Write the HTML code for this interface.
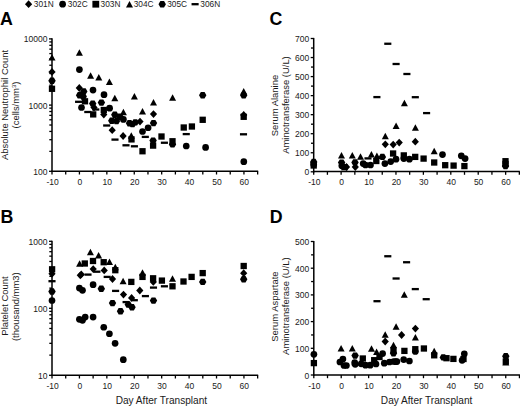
<!DOCTYPE html>
<html><head><meta charset="utf-8"><style>
html,body{margin:0;padding:0;background:#fff;}
svg{display:block;}
text{font-family:"Liberation Sans", sans-serif;}
</style></head><body>
<svg width="520" height="406" viewBox="0 0 520 406">
<rect width="520" height="406" fill="#fff"/>
<line x1="52.00" y1="38.30" x2="52.00" y2="172.00" stroke="#000" stroke-width="1.5"/>
<line x1="49.00" y1="171.30" x2="52.00" y2="171.30" stroke="#000" stroke-width="1.3"/>
<text x="47.50" y="174.80" font-size="8.5" text-anchor="end" font-weight="normal" fill="#1a1a1a">100</text>
<line x1="49.30" y1="151.37" x2="52.00" y2="151.37" stroke="#000" stroke-width="1.3"/>
<line x1="49.30" y1="139.71" x2="52.00" y2="139.71" stroke="#000" stroke-width="1.3"/>
<line x1="49.30" y1="131.44" x2="52.00" y2="131.44" stroke="#000" stroke-width="1.3"/>
<line x1="49.30" y1="125.03" x2="52.00" y2="125.03" stroke="#000" stroke-width="1.3"/>
<line x1="49.30" y1="119.79" x2="52.00" y2="119.79" stroke="#000" stroke-width="1.3"/>
<line x1="49.30" y1="115.35" x2="52.00" y2="115.35" stroke="#000" stroke-width="1.3"/>
<line x1="49.30" y1="111.52" x2="52.00" y2="111.52" stroke="#000" stroke-width="1.3"/>
<line x1="49.30" y1="108.13" x2="52.00" y2="108.13" stroke="#000" stroke-width="1.3"/>
<line x1="49.00" y1="105.10" x2="52.00" y2="105.10" stroke="#000" stroke-width="1.3"/>
<text x="47.50" y="108.60" font-size="8.5" text-anchor="end" font-weight="normal" fill="#1a1a1a">1000</text>
<line x1="49.30" y1="85.17" x2="52.00" y2="85.17" stroke="#000" stroke-width="1.3"/>
<line x1="49.30" y1="73.51" x2="52.00" y2="73.51" stroke="#000" stroke-width="1.3"/>
<line x1="49.30" y1="65.24" x2="52.00" y2="65.24" stroke="#000" stroke-width="1.3"/>
<line x1="49.30" y1="58.83" x2="52.00" y2="58.83" stroke="#000" stroke-width="1.3"/>
<line x1="49.30" y1="53.59" x2="52.00" y2="53.59" stroke="#000" stroke-width="1.3"/>
<line x1="49.30" y1="49.15" x2="52.00" y2="49.15" stroke="#000" stroke-width="1.3"/>
<line x1="49.30" y1="45.32" x2="52.00" y2="45.32" stroke="#000" stroke-width="1.3"/>
<line x1="49.30" y1="41.93" x2="52.00" y2="41.93" stroke="#000" stroke-width="1.3"/>
<line x1="49.00" y1="38.90" x2="52.00" y2="38.90" stroke="#000" stroke-width="1.3"/>
<text x="47.50" y="42.40" font-size="8.5" text-anchor="end" font-weight="normal" fill="#1a1a1a">10000</text>
<line x1="51.30" y1="171.30" x2="258.15" y2="171.30" stroke="#000" stroke-width="1.5"/>
<line x1="52.00" y1="171.30" x2="52.00" y2="174.50" stroke="#000" stroke-width="1.3"/>
<line x1="65.71" y1="171.30" x2="65.71" y2="174.50" stroke="#000" stroke-width="1.3"/>
<line x1="79.42" y1="171.30" x2="79.42" y2="174.50" stroke="#000" stroke-width="1.3"/>
<line x1="93.13" y1="171.30" x2="93.13" y2="174.50" stroke="#000" stroke-width="1.3"/>
<line x1="106.84" y1="171.30" x2="106.84" y2="174.50" stroke="#000" stroke-width="1.3"/>
<line x1="120.55" y1="171.30" x2="120.55" y2="174.50" stroke="#000" stroke-width="1.3"/>
<line x1="134.26" y1="171.30" x2="134.26" y2="174.50" stroke="#000" stroke-width="1.3"/>
<line x1="147.97" y1="171.30" x2="147.97" y2="174.50" stroke="#000" stroke-width="1.3"/>
<line x1="161.68" y1="171.30" x2="161.68" y2="174.50" stroke="#000" stroke-width="1.3"/>
<line x1="175.39" y1="171.30" x2="175.39" y2="174.50" stroke="#000" stroke-width="1.3"/>
<line x1="189.10" y1="171.30" x2="189.10" y2="174.50" stroke="#000" stroke-width="1.3"/>
<line x1="202.81" y1="171.30" x2="202.81" y2="174.50" stroke="#000" stroke-width="1.3"/>
<line x1="216.52" y1="171.30" x2="216.52" y2="174.50" stroke="#000" stroke-width="1.3"/>
<line x1="230.23" y1="171.30" x2="230.23" y2="174.50" stroke="#000" stroke-width="1.3"/>
<line x1="243.94" y1="171.30" x2="243.94" y2="174.50" stroke="#000" stroke-width="1.3"/>
<line x1="257.65" y1="171.30" x2="257.65" y2="174.50" stroke="#000" stroke-width="1.3"/>
<text x="52.60" y="185.20" font-size="8.5" text-anchor="middle" font-weight="normal" fill="#1a1a1a">-10</text>
<text x="79.82" y="185.20" font-size="8.5" text-anchor="middle" font-weight="normal" fill="#1a1a1a">0</text>
<text x="107.24" y="185.20" font-size="8.5" text-anchor="middle" font-weight="normal" fill="#1a1a1a">10</text>
<text x="134.66" y="185.20" font-size="8.5" text-anchor="middle" font-weight="normal" fill="#1a1a1a">20</text>
<text x="162.08" y="185.20" font-size="8.5" text-anchor="middle" font-weight="normal" fill="#1a1a1a">30</text>
<text x="189.50" y="185.20" font-size="8.5" text-anchor="middle" font-weight="normal" fill="#1a1a1a">40</text>
<text x="216.92" y="185.20" font-size="8.5" text-anchor="middle" font-weight="normal" fill="#1a1a1a">50</text>
<text x="244.34" y="185.20" font-size="8.5" text-anchor="middle" font-weight="normal" fill="#1a1a1a">60</text>
<line x1="52.00" y1="240.70" x2="52.00" y2="376.00" stroke="#000" stroke-width="1.5"/>
<line x1="49.00" y1="375.30" x2="52.00" y2="375.30" stroke="#000" stroke-width="1.3"/>
<text x="47.50" y="378.80" font-size="8.5" text-anchor="end" font-weight="normal" fill="#1a1a1a">10</text>
<line x1="49.30" y1="355.13" x2="52.00" y2="355.13" stroke="#000" stroke-width="1.3"/>
<line x1="49.30" y1="343.33" x2="52.00" y2="343.33" stroke="#000" stroke-width="1.3"/>
<line x1="49.30" y1="334.96" x2="52.00" y2="334.96" stroke="#000" stroke-width="1.3"/>
<line x1="49.30" y1="328.47" x2="52.00" y2="328.47" stroke="#000" stroke-width="1.3"/>
<line x1="49.30" y1="323.16" x2="52.00" y2="323.16" stroke="#000" stroke-width="1.3"/>
<line x1="49.30" y1="318.68" x2="52.00" y2="318.68" stroke="#000" stroke-width="1.3"/>
<line x1="49.30" y1="314.79" x2="52.00" y2="314.79" stroke="#000" stroke-width="1.3"/>
<line x1="49.30" y1="311.37" x2="52.00" y2="311.37" stroke="#000" stroke-width="1.3"/>
<line x1="49.00" y1="308.30" x2="52.00" y2="308.30" stroke="#000" stroke-width="1.3"/>
<text x="47.50" y="311.80" font-size="8.5" text-anchor="end" font-weight="normal" fill="#1a1a1a">100</text>
<line x1="49.30" y1="288.13" x2="52.00" y2="288.13" stroke="#000" stroke-width="1.3"/>
<line x1="49.30" y1="276.33" x2="52.00" y2="276.33" stroke="#000" stroke-width="1.3"/>
<line x1="49.30" y1="267.96" x2="52.00" y2="267.96" stroke="#000" stroke-width="1.3"/>
<line x1="49.30" y1="261.47" x2="52.00" y2="261.47" stroke="#000" stroke-width="1.3"/>
<line x1="49.30" y1="256.16" x2="52.00" y2="256.16" stroke="#000" stroke-width="1.3"/>
<line x1="49.30" y1="251.68" x2="52.00" y2="251.68" stroke="#000" stroke-width="1.3"/>
<line x1="49.30" y1="247.79" x2="52.00" y2="247.79" stroke="#000" stroke-width="1.3"/>
<line x1="49.30" y1="244.37" x2="52.00" y2="244.37" stroke="#000" stroke-width="1.3"/>
<line x1="49.00" y1="241.30" x2="52.00" y2="241.30" stroke="#000" stroke-width="1.3"/>
<text x="47.50" y="244.80" font-size="8.5" text-anchor="end" font-weight="normal" fill="#1a1a1a">1000</text>
<line x1="51.30" y1="375.30" x2="258.15" y2="375.30" stroke="#000" stroke-width="1.5"/>
<line x1="52.00" y1="375.30" x2="52.00" y2="378.50" stroke="#000" stroke-width="1.3"/>
<line x1="65.71" y1="375.30" x2="65.71" y2="378.50" stroke="#000" stroke-width="1.3"/>
<line x1="79.42" y1="375.30" x2="79.42" y2="378.50" stroke="#000" stroke-width="1.3"/>
<line x1="93.13" y1="375.30" x2="93.13" y2="378.50" stroke="#000" stroke-width="1.3"/>
<line x1="106.84" y1="375.30" x2="106.84" y2="378.50" stroke="#000" stroke-width="1.3"/>
<line x1="120.55" y1="375.30" x2="120.55" y2="378.50" stroke="#000" stroke-width="1.3"/>
<line x1="134.26" y1="375.30" x2="134.26" y2="378.50" stroke="#000" stroke-width="1.3"/>
<line x1="147.97" y1="375.30" x2="147.97" y2="378.50" stroke="#000" stroke-width="1.3"/>
<line x1="161.68" y1="375.30" x2="161.68" y2="378.50" stroke="#000" stroke-width="1.3"/>
<line x1="175.39" y1="375.30" x2="175.39" y2="378.50" stroke="#000" stroke-width="1.3"/>
<line x1="189.10" y1="375.30" x2="189.10" y2="378.50" stroke="#000" stroke-width="1.3"/>
<line x1="202.81" y1="375.30" x2="202.81" y2="378.50" stroke="#000" stroke-width="1.3"/>
<line x1="216.52" y1="375.30" x2="216.52" y2="378.50" stroke="#000" stroke-width="1.3"/>
<line x1="230.23" y1="375.30" x2="230.23" y2="378.50" stroke="#000" stroke-width="1.3"/>
<line x1="243.94" y1="375.30" x2="243.94" y2="378.50" stroke="#000" stroke-width="1.3"/>
<line x1="257.65" y1="375.30" x2="257.65" y2="378.50" stroke="#000" stroke-width="1.3"/>
<text x="52.60" y="389.20" font-size="8.5" text-anchor="middle" font-weight="normal" fill="#1a1a1a">-10</text>
<text x="79.82" y="389.20" font-size="8.5" text-anchor="middle" font-weight="normal" fill="#1a1a1a">0</text>
<text x="107.24" y="389.20" font-size="8.5" text-anchor="middle" font-weight="normal" fill="#1a1a1a">10</text>
<text x="134.66" y="389.20" font-size="8.5" text-anchor="middle" font-weight="normal" fill="#1a1a1a">20</text>
<text x="162.08" y="389.20" font-size="8.5" text-anchor="middle" font-weight="normal" fill="#1a1a1a">30</text>
<text x="189.50" y="389.20" font-size="8.5" text-anchor="middle" font-weight="normal" fill="#1a1a1a">40</text>
<text x="216.92" y="389.20" font-size="8.5" text-anchor="middle" font-weight="normal" fill="#1a1a1a">50</text>
<text x="244.34" y="389.20" font-size="8.5" text-anchor="middle" font-weight="normal" fill="#1a1a1a">60</text>
<line x1="313.70" y1="37.90" x2="313.70" y2="172.50" stroke="#000" stroke-width="1.5"/>
<line x1="310.70" y1="171.80" x2="313.70" y2="171.80" stroke="#000" stroke-width="1.3"/>
<text x="309.20" y="175.30" font-size="8.5" text-anchor="end" font-weight="normal" fill="#1a1a1a">0</text>
<line x1="310.70" y1="152.76" x2="313.70" y2="152.76" stroke="#000" stroke-width="1.3"/>
<text x="309.20" y="156.26" font-size="8.5" text-anchor="end" font-weight="normal" fill="#1a1a1a">100</text>
<line x1="310.70" y1="133.71" x2="313.70" y2="133.71" stroke="#000" stroke-width="1.3"/>
<text x="309.20" y="137.21" font-size="8.5" text-anchor="end" font-weight="normal" fill="#1a1a1a">200</text>
<line x1="310.70" y1="114.67" x2="313.70" y2="114.67" stroke="#000" stroke-width="1.3"/>
<text x="309.20" y="118.17" font-size="8.5" text-anchor="end" font-weight="normal" fill="#1a1a1a">300</text>
<line x1="310.70" y1="95.63" x2="313.70" y2="95.63" stroke="#000" stroke-width="1.3"/>
<text x="309.20" y="99.13" font-size="8.5" text-anchor="end" font-weight="normal" fill="#1a1a1a">400</text>
<line x1="310.70" y1="76.59" x2="313.70" y2="76.59" stroke="#000" stroke-width="1.3"/>
<text x="309.20" y="80.09" font-size="8.5" text-anchor="end" font-weight="normal" fill="#1a1a1a">500</text>
<line x1="310.70" y1="57.54" x2="313.70" y2="57.54" stroke="#000" stroke-width="1.3"/>
<text x="309.20" y="61.04" font-size="8.5" text-anchor="end" font-weight="normal" fill="#1a1a1a">600</text>
<line x1="310.70" y1="38.50" x2="313.70" y2="38.50" stroke="#000" stroke-width="1.3"/>
<text x="309.20" y="42.00" font-size="8.5" text-anchor="end" font-weight="normal" fill="#1a1a1a">700</text>
<line x1="311.00" y1="162.28" x2="313.70" y2="162.28" stroke="#000" stroke-width="1.3"/>
<line x1="311.00" y1="143.24" x2="313.70" y2="143.24" stroke="#000" stroke-width="1.3"/>
<line x1="311.00" y1="124.19" x2="313.70" y2="124.19" stroke="#000" stroke-width="1.3"/>
<line x1="311.00" y1="105.15" x2="313.70" y2="105.15" stroke="#000" stroke-width="1.3"/>
<line x1="311.00" y1="86.11" x2="313.70" y2="86.11" stroke="#000" stroke-width="1.3"/>
<line x1="311.00" y1="67.06" x2="313.70" y2="67.06" stroke="#000" stroke-width="1.3"/>
<line x1="311.00" y1="48.02" x2="313.70" y2="48.02" stroke="#000" stroke-width="1.3"/>
<line x1="313.00" y1="171.60" x2="519.85" y2="171.60" stroke="#000" stroke-width="1.5"/>
<line x1="313.70" y1="171.60" x2="313.70" y2="174.80" stroke="#000" stroke-width="1.3"/>
<line x1="327.41" y1="171.60" x2="327.41" y2="174.80" stroke="#000" stroke-width="1.3"/>
<line x1="341.12" y1="171.60" x2="341.12" y2="174.80" stroke="#000" stroke-width="1.3"/>
<line x1="354.83" y1="171.60" x2="354.83" y2="174.80" stroke="#000" stroke-width="1.3"/>
<line x1="368.54" y1="171.60" x2="368.54" y2="174.80" stroke="#000" stroke-width="1.3"/>
<line x1="382.25" y1="171.60" x2="382.25" y2="174.80" stroke="#000" stroke-width="1.3"/>
<line x1="395.96" y1="171.60" x2="395.96" y2="174.80" stroke="#000" stroke-width="1.3"/>
<line x1="409.67" y1="171.60" x2="409.67" y2="174.80" stroke="#000" stroke-width="1.3"/>
<line x1="423.38" y1="171.60" x2="423.38" y2="174.80" stroke="#000" stroke-width="1.3"/>
<line x1="437.09" y1="171.60" x2="437.09" y2="174.80" stroke="#000" stroke-width="1.3"/>
<line x1="450.80" y1="171.60" x2="450.80" y2="174.80" stroke="#000" stroke-width="1.3"/>
<line x1="464.51" y1="171.60" x2="464.51" y2="174.80" stroke="#000" stroke-width="1.3"/>
<line x1="478.22" y1="171.60" x2="478.22" y2="174.80" stroke="#000" stroke-width="1.3"/>
<line x1="491.93" y1="171.60" x2="491.93" y2="174.80" stroke="#000" stroke-width="1.3"/>
<line x1="505.64" y1="171.60" x2="505.64" y2="174.80" stroke="#000" stroke-width="1.3"/>
<line x1="519.35" y1="171.60" x2="519.35" y2="174.80" stroke="#000" stroke-width="1.3"/>
<text x="314.30" y="185.40" font-size="8.5" text-anchor="middle" font-weight="normal" fill="#1a1a1a">-10</text>
<text x="341.52" y="185.40" font-size="8.5" text-anchor="middle" font-weight="normal" fill="#1a1a1a">0</text>
<text x="368.94" y="185.40" font-size="8.5" text-anchor="middle" font-weight="normal" fill="#1a1a1a">10</text>
<text x="396.36" y="185.40" font-size="8.5" text-anchor="middle" font-weight="normal" fill="#1a1a1a">20</text>
<text x="423.78" y="185.40" font-size="8.5" text-anchor="middle" font-weight="normal" fill="#1a1a1a">30</text>
<text x="451.20" y="185.40" font-size="8.5" text-anchor="middle" font-weight="normal" fill="#1a1a1a">40</text>
<text x="478.62" y="185.40" font-size="8.5" text-anchor="middle" font-weight="normal" fill="#1a1a1a">50</text>
<text x="506.04" y="185.40" font-size="8.5" text-anchor="middle" font-weight="normal" fill="#1a1a1a">60</text>
<line x1="313.80" y1="240.90" x2="313.80" y2="375.70" stroke="#000" stroke-width="1.5"/>
<line x1="310.80" y1="375.00" x2="313.80" y2="375.00" stroke="#000" stroke-width="1.3"/>
<text x="309.30" y="378.50" font-size="8.5" text-anchor="end" font-weight="normal" fill="#1a1a1a">0</text>
<line x1="310.80" y1="348.30" x2="313.80" y2="348.30" stroke="#000" stroke-width="1.3"/>
<text x="309.30" y="351.80" font-size="8.5" text-anchor="end" font-weight="normal" fill="#1a1a1a">100</text>
<line x1="310.80" y1="321.60" x2="313.80" y2="321.60" stroke="#000" stroke-width="1.3"/>
<text x="309.30" y="325.10" font-size="8.5" text-anchor="end" font-weight="normal" fill="#1a1a1a">200</text>
<line x1="310.80" y1="294.90" x2="313.80" y2="294.90" stroke="#000" stroke-width="1.3"/>
<text x="309.30" y="298.40" font-size="8.5" text-anchor="end" font-weight="normal" fill="#1a1a1a">300</text>
<line x1="310.80" y1="268.20" x2="313.80" y2="268.20" stroke="#000" stroke-width="1.3"/>
<text x="309.30" y="271.70" font-size="8.5" text-anchor="end" font-weight="normal" fill="#1a1a1a">400</text>
<line x1="310.80" y1="241.50" x2="313.80" y2="241.50" stroke="#000" stroke-width="1.3"/>
<text x="309.30" y="245.00" font-size="8.5" text-anchor="end" font-weight="normal" fill="#1a1a1a">500</text>
<line x1="311.10" y1="361.65" x2="313.80" y2="361.65" stroke="#000" stroke-width="1.3"/>
<line x1="311.10" y1="334.95" x2="313.80" y2="334.95" stroke="#000" stroke-width="1.3"/>
<line x1="311.10" y1="308.25" x2="313.80" y2="308.25" stroke="#000" stroke-width="1.3"/>
<line x1="311.10" y1="281.55" x2="313.80" y2="281.55" stroke="#000" stroke-width="1.3"/>
<line x1="311.10" y1="254.85" x2="313.80" y2="254.85" stroke="#000" stroke-width="1.3"/>
<line x1="313.10" y1="375.00" x2="519.95" y2="375.00" stroke="#000" stroke-width="1.5"/>
<line x1="313.80" y1="375.00" x2="313.80" y2="378.20" stroke="#000" stroke-width="1.3"/>
<line x1="327.51" y1="375.00" x2="327.51" y2="378.20" stroke="#000" stroke-width="1.3"/>
<line x1="341.22" y1="375.00" x2="341.22" y2="378.20" stroke="#000" stroke-width="1.3"/>
<line x1="354.93" y1="375.00" x2="354.93" y2="378.20" stroke="#000" stroke-width="1.3"/>
<line x1="368.64" y1="375.00" x2="368.64" y2="378.20" stroke="#000" stroke-width="1.3"/>
<line x1="382.35" y1="375.00" x2="382.35" y2="378.20" stroke="#000" stroke-width="1.3"/>
<line x1="396.06" y1="375.00" x2="396.06" y2="378.20" stroke="#000" stroke-width="1.3"/>
<line x1="409.77" y1="375.00" x2="409.77" y2="378.20" stroke="#000" stroke-width="1.3"/>
<line x1="423.48" y1="375.00" x2="423.48" y2="378.20" stroke="#000" stroke-width="1.3"/>
<line x1="437.19" y1="375.00" x2="437.19" y2="378.20" stroke="#000" stroke-width="1.3"/>
<line x1="450.90" y1="375.00" x2="450.90" y2="378.20" stroke="#000" stroke-width="1.3"/>
<line x1="464.61" y1="375.00" x2="464.61" y2="378.20" stroke="#000" stroke-width="1.3"/>
<line x1="478.32" y1="375.00" x2="478.32" y2="378.20" stroke="#000" stroke-width="1.3"/>
<line x1="492.03" y1="375.00" x2="492.03" y2="378.20" stroke="#000" stroke-width="1.3"/>
<line x1="505.74" y1="375.00" x2="505.74" y2="378.20" stroke="#000" stroke-width="1.3"/>
<line x1="519.45" y1="375.00" x2="519.45" y2="378.20" stroke="#000" stroke-width="1.3"/>
<text x="314.40" y="388.90" font-size="8.5" text-anchor="middle" font-weight="normal" fill="#1a1a1a">-10</text>
<text x="341.62" y="388.90" font-size="8.5" text-anchor="middle" font-weight="normal" fill="#1a1a1a">0</text>
<text x="369.04" y="388.90" font-size="8.5" text-anchor="middle" font-weight="normal" fill="#1a1a1a">10</text>
<text x="396.46" y="388.90" font-size="8.5" text-anchor="middle" font-weight="normal" fill="#1a1a1a">20</text>
<text x="423.88" y="388.90" font-size="8.5" text-anchor="middle" font-weight="normal" fill="#1a1a1a">30</text>
<text x="451.30" y="388.90" font-size="8.5" text-anchor="middle" font-weight="normal" fill="#1a1a1a">40</text>
<text x="478.72" y="388.90" font-size="8.5" text-anchor="middle" font-weight="normal" fill="#1a1a1a">50</text>
<text x="506.14" y="388.90" font-size="8.5" text-anchor="middle" font-weight="normal" fill="#1a1a1a">60</text>
<text x="0.00" y="25.40" font-size="17.8" text-anchor="start" font-weight="bold" fill="#000">A</text>
<text x="0.50" y="223.30" font-size="17.8" text-anchor="start" font-weight="bold" fill="#000">B</text>
<text x="269.60" y="25.40" font-size="17.8" text-anchor="start" font-weight="bold" fill="#000">C</text>
<text x="269.70" y="223.30" font-size="17.8" text-anchor="start" font-weight="bold" fill="#000">D</text>
<text x="8.00" y="105.00" font-size="9.45" text-anchor="middle" font-weight="normal" fill="#1a1a1a" transform="rotate(-90 8.00 105.00)">Absolute Neutrophil Count</text>
<text x="19.10" y="105.00" font-size="9.45" text-anchor="middle" font-weight="normal" fill="#1a1a1a" transform="rotate(-90 19.10 105.00)">(cells/mm<tspan font-size="6" dy="-3">3</tspan><tspan dy="3">)</tspan></text>
<text x="8.00" y="306.00" font-size="9.45" text-anchor="middle" font-weight="normal" fill="#1a1a1a" transform="rotate(-90 8.00 306.00)">Platelet Count</text>
<text x="19.10" y="306.70" font-size="9.45" text-anchor="middle" font-weight="normal" fill="#1a1a1a" transform="rotate(-90 19.10 306.70)">(thousand/mm3)</text>
<text x="278.00" y="105.50" font-size="9.45" text-anchor="middle" font-weight="normal" fill="#1a1a1a" transform="rotate(-90 278.00 105.50)">Serum Alanine</text>
<text x="288.60" y="105.00" font-size="9.45" text-anchor="middle" font-weight="normal" fill="#1a1a1a" transform="rotate(-90 288.60 105.00)">Aminotransferase (U/L)</text>
<text x="278.00" y="306.60" font-size="9.45" text-anchor="middle" font-weight="normal" fill="#1a1a1a" transform="rotate(-90 278.00 306.60)">Serum Aspartate</text>
<text x="288.60" y="306.10" font-size="9.45" text-anchor="middle" font-weight="normal" fill="#1a1a1a" transform="rotate(-90 288.60 306.10)">Aminotransferase (U/L)</text>
<text x="161.40" y="403.60" font-size="10.1" text-anchor="middle" font-weight="normal" fill="#1a1a1a">Day After Transplant</text>
<text x="426.60" y="403.60" font-size="10.1" text-anchor="middle" font-weight="normal" fill="#1a1a1a">Day After Transplant</text>
<path d="M28.60 0.30L32.20 4.20L28.60 8.10L25.00 4.20Z"/>
<text x="33.80" y="7.10" font-size="8.3" text-anchor="start" font-weight="normal" fill="#1a1a1a">301N</text>
<circle cx="62.60" cy="4.20" r="3.35"/>
<text x="67.80" y="7.10" font-size="8.3" text-anchor="start" font-weight="normal" fill="#1a1a1a">302C</text>
<rect x="92.40" y="0.80" width="6.8" height="6.8"/>
<text x="100.60" y="7.10" font-size="8.3" text-anchor="start" font-weight="normal" fill="#1a1a1a">303N</text>
<path d="M129.50 0.95L133.00 7.45L126.00 7.45Z"/>
<text x="133.70" y="7.10" font-size="8.3" text-anchor="start" font-weight="normal" fill="#1a1a1a">304C</text>
<path d="M158.50 4.20L160.35 1.00L164.05 1.00L165.90 4.20L164.05 7.40L160.35 7.40Z"/>
<text x="167.20" y="7.10" font-size="8.3" text-anchor="start" font-weight="normal" fill="#1a1a1a">305C</text>
<rect x="191.55" y="3.05" width="7.1" height="2.3"/>
<text x="200.30" y="7.10" font-size="8.3" text-anchor="start" font-weight="normal" fill="#1a1a1a">306N</text>
<path d="M52.00 54.05L55.50 60.55L48.50 60.55Z"/>
<path d="M52.00 68.00L55.60 71.90L52.00 75.80L48.40 71.90Z"/>
<path d="M48.30 80.80L50.15 77.60L53.85 77.60L55.70 80.80L53.85 84.00L50.15 84.00Z"/>
<rect x="48.85" y="85.65" width="6.3" height="6.3"/>
<path d="M79.40 49.35L82.90 55.85L75.90 55.85Z"/>
<path d="M90.60 72.15L94.10 78.65L87.10 78.65Z"/>
<path d="M98.80 74.05L102.30 80.55L95.30 80.55Z"/>
<path d="M109.40 78.45L112.90 84.95L105.90 84.95Z"/>
<path d="M114.80 94.75L118.30 101.25L111.30 101.25Z"/>
<path d="M134.40 92.95L137.90 99.45L130.90 99.45Z"/>
<path d="M153.50 99.05L157.00 105.55L150.00 105.55Z"/>
<path d="M172.60 94.25L176.10 100.75L169.10 100.75Z"/>
<path d="M123.40 108.85L126.90 115.35L119.90 115.35Z"/>
<path d="M142.50 107.95L146.00 114.45L139.00 114.45Z"/>
<path d="M131.30 132.15L134.80 138.65L127.80 138.65Z"/>
<path d="M243.70 88.05L247.20 94.55L240.20 94.55Z"/>
<circle cx="79.40" cy="69.60" r="3.35"/>
<circle cx="93.00" cy="90.10" r="3.35"/>
<circle cx="104.00" cy="94.70" r="3.35"/>
<circle cx="81.50" cy="107.50" r="3.35"/>
<circle cx="109.60" cy="108.20" r="3.35"/>
<circle cx="148.10" cy="127.75" r="3.35"/>
<circle cx="142.50" cy="131.50" r="3.35"/>
<circle cx="186.25" cy="146.00" r="3.35"/>
<circle cx="205.60" cy="147.40" r="3.35"/>
<circle cx="243.80" cy="161.70" r="3.35"/>
<circle cx="123.40" cy="119.40" r="3.35"/>
<path d="M97.70 102.60L99.55 99.40L103.25 99.40L105.10 102.60L103.25 105.80L99.55 105.80Z"/>
<path d="M89.00 103.60L90.85 100.40L94.55 100.40L96.40 103.60L94.55 106.80L90.85 106.80Z"/>
<path d="M149.80 123.10L151.65 119.90L155.35 119.90L157.20 123.10L155.35 126.30L151.65 126.30Z"/>
<path d="M199.00 95.20L200.85 92.00L204.55 92.00L206.40 95.20L204.55 98.40L200.85 98.40Z"/>
<path d="M240.00 95.20L241.85 92.00L245.55 92.00L247.40 95.20L245.55 98.40L241.85 98.40Z"/>
<path d="M111.10 114.70L112.95 111.50L116.65 111.50L118.50 114.70L116.65 117.90L112.95 117.90Z"/>
<path d="M108.10 120.70L109.95 117.50L113.65 117.50L115.50 120.70L113.65 123.90L109.95 123.90Z"/>
<path d="M112.80 121.10L114.65 117.90L118.35 117.90L120.20 121.10L118.35 124.30L114.65 124.30Z"/>
<path d="M116.30 116.80L118.15 113.60L121.85 113.60L123.70 116.80L121.85 120.00L118.15 120.00Z"/>
<path d="M125.80 123.30L127.65 120.10L131.35 120.10L133.20 123.30L131.35 126.50L127.65 126.50Z"/>
<path d="M128.80 124.10L130.65 120.90L134.35 120.90L136.20 124.10L134.35 127.30L130.65 127.30Z"/>
<path d="M131.60 122.40L133.45 119.20L137.15 119.20L139.00 122.40L137.15 125.60L133.45 125.60Z"/>
<path d="M149.40 140.60L151.25 137.40L154.95 137.40L156.80 140.60L154.95 143.80L151.25 143.80Z"/>
<path d="M168.80 144.40L170.65 141.20L174.35 141.20L176.20 144.40L174.35 147.60L170.65 147.60Z"/>
<path d="M80.10 91.40L81.95 88.20L85.65 88.20L87.50 91.40L85.65 94.60L81.95 94.60Z"/>
<path d="M75.90 95.30L77.75 92.10L81.45 92.10L83.30 95.30L81.45 98.50L77.75 98.50Z"/>
<path d="M79.50 96.50L81.35 93.30L85.05 93.30L86.90 96.50L85.05 99.70L81.35 99.70Z"/>
<path d="M79.30 84.10L82.90 88.00L79.30 91.90L75.70 88.00Z"/>
<path d="M94.00 103.60L97.60 107.50L94.00 111.40L90.40 107.50Z"/>
<path d="M103.80 110.60L107.40 114.50L103.80 118.40L100.20 114.50Z"/>
<path d="M112.20 126.30L115.80 130.20L112.20 134.10L108.60 130.20Z"/>
<path d="M123.10 132.10L126.70 136.00L123.10 139.90L119.50 136.00Z"/>
<path d="M140.00 117.70L143.60 121.60L140.00 125.50L136.40 121.60Z"/>
<path d="M153.50 110.20L157.10 114.10L153.50 118.00L149.90 114.10Z"/>
<path d="M243.70 111.10L247.30 115.00L243.70 118.90L240.10 115.00Z"/>
<rect x="81.85" y="98.15" width="6.3" height="6.3"/>
<rect x="90.05" y="111.25" width="6.3" height="6.3"/>
<rect x="100.65" y="106.85" width="6.3" height="6.3"/>
<rect x="128.35" y="136.25" width="6.3" height="6.3"/>
<rect x="139.35" y="148.10" width="6.3" height="6.3"/>
<rect x="149.95" y="142.45" width="6.3" height="6.3"/>
<rect x="158.35" y="133.35" width="6.3" height="6.3"/>
<rect x="169.35" y="138.10" width="6.3" height="6.3"/>
<rect x="180.60" y="124.35" width="6.3" height="6.3"/>
<rect x="188.75" y="123.35" width="6.3" height="6.3"/>
<rect x="199.55" y="116.65" width="6.3" height="6.3"/>
<rect x="240.55" y="113.65" width="6.3" height="6.3"/>
<rect x="75.05" y="100.65" width="7.1" height="2.3"/>
<rect x="84.25" y="110.85" width="7.1" height="2.3"/>
<rect x="92.25" y="108.35" width="7.1" height="2.3"/>
<rect x="103.15" y="124.35" width="7.1" height="2.3"/>
<rect x="111.45" y="138.45" width="7.1" height="2.3"/>
<rect x="122.45" y="144.15" width="7.1" height="2.3"/>
<rect x="130.85" y="145.15" width="7.1" height="2.3"/>
<rect x="141.75" y="135.75" width="7.1" height="2.3"/>
<rect x="160.85" y="141.60" width="7.1" height="2.3"/>
<rect x="182.70" y="132.95" width="7.1" height="2.3"/>
<rect x="239.95" y="133.15" width="7.1" height="2.3"/>
<rect x="48.95" y="266.15" width="6.3" height="6.3"/>
<path d="M52.00 269.90L55.60 273.80L52.00 277.70L48.40 273.80Z"/>
<rect x="48.45" y="280.05" width="7.1" height="2.3"/>
<path d="M48.30 291.50L50.15 288.30L53.85 288.30L55.70 291.50L53.85 294.70L50.15 294.70Z"/>
<circle cx="52.00" cy="300.50" r="3.35"/>
<path d="M79.60 260.25L83.10 266.75L76.10 266.75Z"/>
<path d="M90.40 248.65L93.90 255.15L86.90 255.15Z"/>
<path d="M98.60 251.95L102.10 258.45L95.10 258.45Z"/>
<path d="M109.50 258.55L113.00 265.05L106.00 265.05Z"/>
<path d="M115.30 263.65L118.80 270.15L111.80 270.15Z"/>
<path d="M123.10 277.75L126.60 284.25L119.60 284.25Z"/>
<path d="M142.50 269.35L146.00 275.85L139.00 275.85Z"/>
<path d="M172.50 275.35L176.00 281.85L169.00 281.85Z"/>
<rect x="81.65" y="260.35" width="6.3" height="6.3"/>
<rect x="89.85" y="257.85" width="6.3" height="6.3"/>
<rect x="100.55" y="259.05" width="6.3" height="6.3"/>
<rect x="112.15" y="267.05" width="6.3" height="6.3"/>
<rect x="128.15" y="278.75" width="6.3" height="6.3"/>
<rect x="139.35" y="273.75" width="6.3" height="6.3"/>
<rect x="149.95" y="275.15" width="6.3" height="6.3"/>
<rect x="158.75" y="277.45" width="6.3" height="6.3"/>
<rect x="169.35" y="283.15" width="6.3" height="6.3"/>
<rect x="180.35" y="278.35" width="6.3" height="6.3"/>
<rect x="188.45" y="273.75" width="6.3" height="6.3"/>
<rect x="199.55" y="269.95" width="6.3" height="6.3"/>
<rect x="240.55" y="262.85" width="6.3" height="6.3"/>
<path d="M80.30 271.40L83.90 275.30L80.30 279.20L76.70 275.30Z"/>
<path d="M81.30 270.50L84.90 274.40L81.30 278.30L77.70 274.40Z"/>
<path d="M93.20 265.20L96.80 269.10L93.20 273.00L89.60 269.10Z"/>
<path d="M104.20 266.50L107.80 270.40L104.20 274.30L100.60 270.40Z"/>
<path d="M112.50 275.10L116.10 279.00L112.50 282.90L108.90 279.00Z"/>
<path d="M123.50 290.70L127.10 294.60L123.50 298.50L119.90 294.60Z"/>
<path d="M139.80 286.60L143.40 290.50L139.80 294.40L136.20 290.50Z"/>
<path d="M131.60 294.00L135.20 297.90L131.60 301.80L128.00 297.90Z"/>
<path d="M153.30 278.00L156.90 281.90L153.30 285.80L149.70 281.90Z"/>
<path d="M243.70 269.30L247.30 273.20L243.70 277.10L240.10 273.20Z"/>
<rect x="84.45" y="273.45" width="7.1" height="2.3"/>
<rect x="93.35" y="270.55" width="7.1" height="2.3"/>
<rect x="103.65" y="275.75" width="7.1" height="2.3"/>
<rect x="112.05" y="289.75" width="7.1" height="2.3"/>
<rect x="122.55" y="300.95" width="7.1" height="2.3"/>
<rect x="130.75" y="299.05" width="7.1" height="2.3"/>
<rect x="141.85" y="294.95" width="7.1" height="2.3"/>
<rect x="149.95" y="286.45" width="7.1" height="2.3"/>
<rect x="160.85" y="285.15" width="7.1" height="2.3"/>
<path d="M97.60 288.70L99.45 285.50L103.15 285.50L105.00 288.70L103.15 291.90L99.45 291.90Z"/>
<path d="M108.80 303.10L110.65 299.90L114.35 299.90L116.20 303.10L114.35 306.30L110.65 306.30Z"/>
<path d="M116.80 311.30L118.65 308.10L122.35 308.10L124.20 311.30L122.35 314.50L118.65 314.50Z"/>
<path d="M124.60 304.60L126.45 301.40L130.15 301.40L132.00 304.60L130.15 307.80L126.45 307.80Z"/>
<path d="M128.30 307.20L130.15 304.00L133.85 304.00L135.70 307.20L133.85 310.40L130.15 310.40Z"/>
<path d="M149.80 300.60L151.65 297.40L155.35 297.40L157.20 300.60L155.35 303.80L151.65 303.80Z"/>
<path d="M199.00 281.90L200.85 278.70L204.55 278.70L206.40 281.90L204.55 285.10L200.85 285.10Z"/>
<path d="M240.00 279.20L241.85 276.00L245.55 276.00L247.40 279.20L245.55 282.40L241.85 282.40Z"/>
<circle cx="79.40" cy="288.10" r="3.35"/>
<circle cx="82.50" cy="290.30" r="3.35"/>
<circle cx="93.10" cy="284.70" r="3.35"/>
<circle cx="79.40" cy="319.30" r="3.35"/>
<circle cx="82.50" cy="320.30" r="3.35"/>
<circle cx="85.20" cy="317.10" r="3.35"/>
<circle cx="93.10" cy="317.10" r="3.35"/>
<circle cx="103.75" cy="327.25" r="3.35"/>
<circle cx="109.40" cy="333.75" r="3.35"/>
<circle cx="115.10" cy="343.30" r="3.35"/>
<circle cx="123.30" cy="359.70" r="3.35"/>
<rect x="384.25" y="42.60" width="7.1" height="2.3"/>
<rect x="392.55" y="62.85" width="7.1" height="2.3"/>
<rect x="403.35" y="72.85" width="7.1" height="2.3"/>
<rect x="373.35" y="95.95" width="7.1" height="2.3"/>
<rect x="411.75" y="96.05" width="7.1" height="2.3"/>
<rect x="423.05" y="111.95" width="7.1" height="2.3"/>
<path d="M404.40 99.85L407.90 106.35L400.90 106.35Z"/>
<path d="M396.10 122.55L399.60 129.05L392.60 129.05Z"/>
<path d="M415.40 124.35L418.90 130.85L411.90 130.85Z"/>
<path d="M385.30 132.65L388.80 139.15L381.80 139.15Z"/>
<path d="M341.50 151.95L345.00 158.45L338.00 158.45Z"/>
<path d="M352.30 151.95L355.80 158.45L348.80 158.45Z"/>
<path d="M360.50 153.15L364.00 159.65L357.00 159.65Z"/>
<path d="M371.40 151.05L374.90 157.55L367.90 157.55Z"/>
<path d="M376.90 152.45L380.40 158.95L373.40 158.95Z"/>
<path d="M434.20 147.75L437.70 154.25L430.70 154.25Z"/>
<path d="M385.30 140.40L388.90 144.30L385.30 148.20L381.70 144.30Z"/>
<path d="M393.20 140.70L396.80 144.60L393.20 148.50L389.60 144.60Z"/>
<path d="M399.20 138.70L402.80 142.60L399.20 146.50L395.60 142.60Z"/>
<path d="M415.30 137.80L418.90 141.70L415.30 145.60L411.70 141.70Z"/>
<path d="M310.00 162.00L311.85 158.80L315.55 158.80L317.40 162.00L315.55 165.20L311.85 165.20Z"/>
<circle cx="313.70" cy="164.50" r="3.35"/>
<rect x="310.55" y="162.35" width="6.3" height="6.3"/>
<path d="M337.90 162.60L339.75 159.40L343.45 159.40L345.30 162.60L343.45 165.80L339.75 165.80Z"/>
<circle cx="341.80" cy="165.80" r="3.35"/>
<path d="M346.50 163.10L350.10 167.00L346.50 170.90L342.90 167.00Z"/>
<rect x="341.35" y="164.05" width="6.3" height="6.3"/>
<path d="M351.30 162.40L353.15 159.20L356.85 159.20L358.70 162.40L356.85 165.60L353.15 165.60Z"/>
<path d="M355.30 163.10L358.90 167.00L355.30 170.90L351.70 167.00Z"/>
<circle cx="363.20" cy="163.60" r="3.35"/>
<rect x="364.45" y="157.25" width="7.1" height="2.3"/>
<circle cx="365.50" cy="165.00" r="3.35"/>
<circle cx="370.50" cy="165.00" r="3.35"/>
<rect x="373.15" y="157.85" width="6.3" height="6.3"/>
<path d="M378.70 156.90L380.55 153.70L384.25 153.70L386.10 156.90L384.25 160.10L380.55 160.10Z"/>
<circle cx="384.90" cy="163.60" r="3.35"/>
<circle cx="390.70" cy="161.60" r="3.35"/>
<circle cx="396.00" cy="159.20" r="3.35"/>
<rect x="389.95" y="150.35" width="6.3" height="6.3"/>
<rect x="400.65" y="152.25" width="6.3" height="6.3"/>
<circle cx="403.80" cy="158.60" r="3.35"/>
<circle cx="409.40" cy="159.20" r="3.35"/>
<rect x="412.05" y="153.75" width="6.3" height="6.3"/>
<rect x="420.45" y="155.45" width="6.3" height="6.3"/>
<rect x="431.05" y="159.35" width="6.3" height="6.3"/>
<circle cx="442.50" cy="154.60" r="3.35"/>
<rect x="442.05" y="162.05" width="6.3" height="6.3"/>
<rect x="450.45" y="162.45" width="6.3" height="6.3"/>
<circle cx="461.30" cy="155.80" r="3.35"/>
<circle cx="465.10" cy="158.60" r="3.35"/>
<rect x="461.25" y="162.95" width="6.3" height="6.3"/>
<rect x="502.35" y="158.05" width="6.3" height="6.3"/>
<rect x="502.35" y="160.85" width="6.3" height="6.3"/>
<path d="M501.80 166.00L503.65 162.80L507.35 162.80L509.20 166.00L507.35 169.20L503.65 169.20Z"/>
<rect x="384.25" y="255.10" width="7.1" height="2.3"/>
<rect x="403.05" y="261.10" width="7.1" height="2.3"/>
<rect x="392.55" y="277.35" width="7.1" height="2.3"/>
<rect x="411.75" y="287.95" width="7.1" height="2.3"/>
<rect x="373.45" y="300.05" width="7.1" height="2.3"/>
<rect x="422.65" y="298.05" width="7.1" height="2.3"/>
<path d="M404.30 291.35L407.80 297.85L400.80 297.85Z"/>
<path d="M396.10 323.15L399.60 329.65L392.60 329.65Z"/>
<path d="M385.20 331.15L388.70 337.65L381.70 337.65Z"/>
<path d="M415.40 333.95L418.90 340.45L411.90 340.45Z"/>
<path d="M341.10 345.05L344.60 351.55L337.60 351.55Z"/>
<path d="M352.30 345.05L355.80 351.55L348.80 351.55Z"/>
<path d="M371.50 345.35L375.00 351.85L368.00 351.85Z"/>
<path d="M434.20 347.65L437.70 354.15L430.70 354.15Z"/>
<path d="M376.60 348.55L380.10 355.05L373.10 355.05Z"/>
<path d="M415.40 324.70L419.00 328.60L415.40 332.50L411.80 328.60Z"/>
<path d="M385.20 337.60L388.80 341.50L385.20 345.40L381.60 341.50Z"/>
<path d="M401.60 331.10L405.20 335.00L401.60 338.90L398.00 335.00Z"/>
<path d="M393.50 341.65L397.00 348.15L390.00 348.15Z"/>
<rect x="390.35" y="346.85" width="6.3" height="6.3"/>
<path d="M389.80 353.30L391.65 350.10L395.35 350.10L397.20 353.30L395.35 356.50L391.65 356.50Z"/>
<circle cx="313.90" cy="354.30" r="3.35"/>
<rect x="310.75" y="359.95" width="6.3" height="6.3"/>
<circle cx="342.90" cy="359.00" r="3.35"/>
<circle cx="339.90" cy="362.00" r="3.35"/>
<circle cx="346.40" cy="365.50" r="3.35"/>
<circle cx="344.00" cy="365.50" r="3.35"/>
<path d="M351.40 355.60L353.25 352.40L356.95 352.40L358.80 355.60L356.95 358.80L353.25 358.80Z"/>
<circle cx="354.70" cy="362.50" r="3.35"/>
<rect x="351.75" y="363.35" width="7.1" height="2.3"/>
<circle cx="355.20" cy="364.30" r="3.35"/>
<circle cx="361.20" cy="363.80" r="3.35"/>
<rect x="359.65" y="355.35" width="6.3" height="6.3"/>
<circle cx="365.50" cy="365.20" r="3.35"/>
<circle cx="370.20" cy="365.20" r="3.35"/>
<rect x="371.05" y="357.05" width="6.3" height="6.3"/>
<circle cx="376.00" cy="364.00" r="3.35"/>
<rect x="376.35" y="353.85" width="6.3" height="6.3"/>
<circle cx="382.60" cy="353.60" r="3.35"/>
<circle cx="384.30" cy="363.20" r="3.35"/>
<circle cx="389.50" cy="362.00" r="3.35"/>
<circle cx="393.70" cy="361.50" r="3.35"/>
<circle cx="396.90" cy="361.50" r="3.35"/>
<rect x="401.25" y="347.75" width="6.3" height="6.3"/>
<rect x="412.15" y="346.05" width="6.3" height="6.3"/>
<circle cx="415.30" cy="351.50" r="3.35"/>
<rect x="420.75" y="345.35" width="6.3" height="6.3"/>
<rect x="431.05" y="352.15" width="6.3" height="6.3"/>
<circle cx="403.70" cy="359.60" r="3.35"/>
<circle cx="409.40" cy="361.00" r="3.35"/>
<circle cx="395.70" cy="361.70" r="3.35"/>
<path d="M439.60 357.40L441.45 354.20L445.15 354.20L447.00 357.40L445.15 360.60L441.45 360.60Z"/>
<rect x="443.35" y="355.05" width="6.3" height="6.3"/>
<rect x="450.25" y="355.75" width="6.3" height="6.3"/>
<circle cx="464.30" cy="353.80" r="3.35"/>
<circle cx="462.10" cy="360.30" r="3.35"/>
<rect x="460.35" y="355.85" width="6.3" height="6.3"/>
<path d="M502.10 356.20L503.95 353.00L507.65 353.00L509.50 356.20L507.65 359.40L503.95 359.40Z"/>
<rect x="502.65" y="358.35" width="6.3" height="6.3"/>
<path d="M505.80 358.95L509.30 365.45L502.30 365.45Z"/>
</svg>
</body></html>
